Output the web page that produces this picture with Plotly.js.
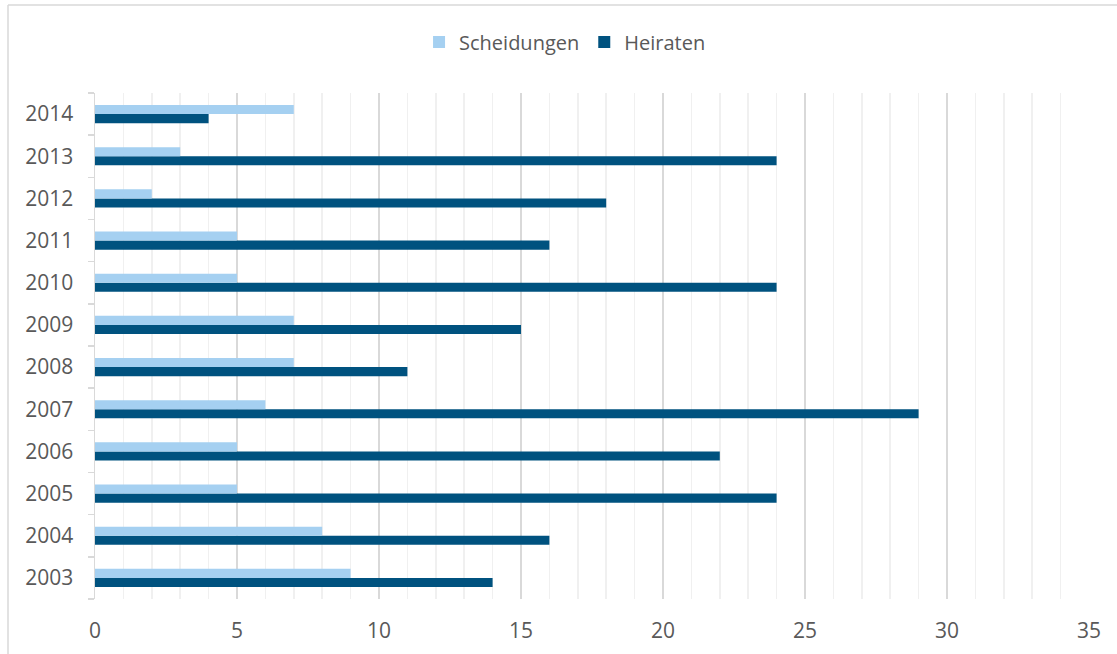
<!DOCTYPE html>
<html>
<head>
<meta charset="utf-8">
<script src="https://cdn.plot.ly/plotly-3.0.1.min.js"></script>
<style>
  html, body { margin: 0; padding: 0; background: #fff; }
  #chart { width: 1117px; height: 654px; }
</style>
</head>
<body>
<div id="chart"></div>
<script>
const years = ['2003','2004','2005','2006','2007','2008','2009','2010','2011','2012','2013','2014'];
const scheidungen = [9, 8, 5, 5, 6, 7, 7, 5, 5, 2, 3, 7];
const heiraten = [14, 16, 24, 22, 29, 11, 15, 24, 16, 18, 24, 4];
const seriesNames = ['Scheidungen', 'Heiraten'];
const xTicks = [0, 5, 10, 15, 20, 25, 30, 35];

const textColor = '#595959';
const font = { family: '"Open Sans", "Noto Sans", sans-serif', size: 20, color: textColor };
const tickFont = { family: '"Open Sans", "Noto Sans", sans-serif', size: 21, color: textColor };

const traces = [
  {
    type: 'bar', orientation: 'h', name: seriesNames[1],
    y: years, x: heiraten,
    marker: { color: '#00527F' },
    hoverinfo: 'x+y+name'
  },
  {
    type: 'bar', orientation: 'h', name: seriesNames[0],
    y: years, x: scheidungen,
    marker: { color: '#A5D0F1' },
    hoverinfo: 'x+y+name'
  }
];

const layout = {
  width: 1117, height: 654,
  margin: { l: 95, r: 28, t: 93, b: 55 },
  paper_bgcolor: '#ffffff', plot_bgcolor: '#ffffff',
  font: font,
  barmode: 'group',
  bargap: 0.57,
  bargroupgap: 0,
  showlegend: true,
  legend: {
    orientation: 'h', traceorder: 'reversed',
    x: 0.326, xanchor: 'left',
    yref: 'container', y: 1 - 42/654, yanchor: 'middle',
    font: font, itemwidth: 30
  },
  xaxis: {
    range: [0, 35], tickvals: xTicks, ticktext: xTicks.map(String),
    showgrid: true, gridcolor: '#d9d9d9', gridwidth: 1.5,
    minor: { dtick: 1, showgrid: true, gridcolor: '#f0f0f0', gridwidth: 1.5, ticks: '' },
    zeroline: false, showline: false, ticks: '',
    ticklabelstandoff: 17,
    tickfont: tickFont, fixedrange: true
  },
  yaxis: {
    type: 'category', categoryorder: 'array', categoryarray: years,
    showgrid: false, zeroline: false,
    showline: true, linecolor: '#d9d9d9', linewidth: 1.5,
    ticks: 'outside', tickson: 'boundaries', ticklen: 6, tickcolor: '#d9d9d9', tickwidth: 1.5,
    ticklabelstandoff: 16,
    tickfont: tickFont, fixedrange: true
  },
  shapes: [
    { type: 'line', xref: 'paper', yref: 'paper', x0: (8 - 95) / 994, x1: (8 - 95) / 994, y0: (599 - 5) / 506, y1: -0.2,
      line: { color: '#d9d9d9', width: 1.5 } },
    { type: 'line', xref: 'paper', yref: 'paper', x0: (8 - 95) / 994, x1: 1.1, y0: (599 - 5) / 506, y1: (599 - 5) / 506,
      line: { color: '#d9d9d9', width: 1.5 } }
  ]
};

Plotly.newPlot('chart', traces, layout, { displayModeBar: false, staticPlot: true });
</script>
</body>
</html>
